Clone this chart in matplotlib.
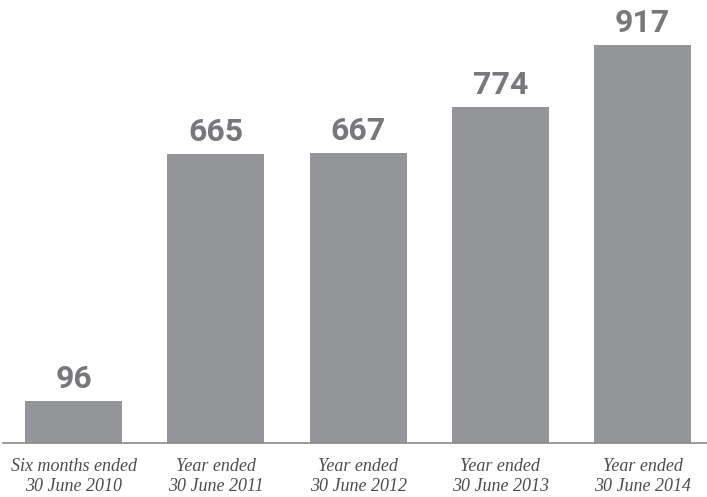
import matplotlib.pyplot as plt

plt.rcParams['font.serif'] = ['Liberation Serif', 'DejaVu Serif']

periods = ["Six months ended\n30 June 2010", "Year ended\n30 June 2011", "Year ended\n30 June 2012",
           "Year ended\n30 June 2013", "Year ended\n30 June 2014"]
values = [96, 665, 667, 774, 917]

bar_color = '#939598'
label_color = '#77787b'

fig = plt.figure(figsize=(7.07, 4.97), dpi=100)
ax = fig.add_axes([3 / 707, 54 / 497, 704 / 707, 443 / 497])

x = list(range(len(values)))
bars = ax.bar(x, values, width=0.682, color=bar_color)

for bar, v in zip(bars, values):
    ax.text(bar.get_x() + bar.get_width() / 2, v + 16, str(v), ha='center', va='bottom',
            fontsize=23, fontweight='bold', family='Roboto', color=label_color)

ax.set_xlim(-0.496, 4.453)
ax.set_ylim(0, 1020)
ax.set_xticks(x)
ax.set_xticklabels(periods, family='serif', style='italic', fontsize=13,
                   color='#4d4d4f', linespacing=1.2)
ax.tick_params(axis='x', length=0, pad=11)
ax.set_yticks([])

for side in ['top', 'right', 'left']:
    ax.spines[side].set_visible(False)
ax.spines['bottom'].set_color('#8a8a8c')
ax.spines['bottom'].set_linewidth(1.2)

plt.savefig('out.png', dpi=100)
